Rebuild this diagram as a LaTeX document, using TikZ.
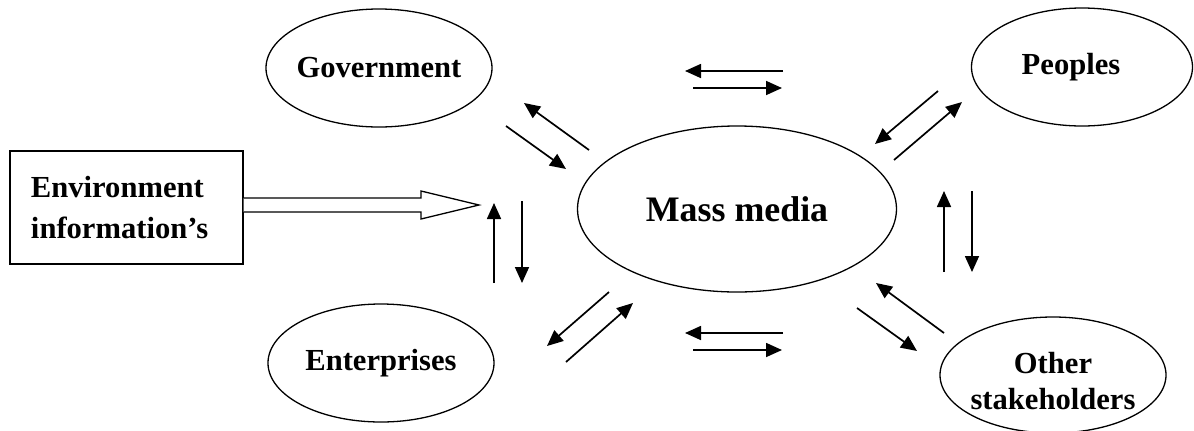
\documentclass[tikz,border=0pt]{standalone}
\usepackage{fontspec}
\setmainfont{Liberation Serif}
\usetikzlibrary{arrows.meta,shapes.geometric,calc}
\begin{document}
\begin{tikzpicture}[x=1bp,y=-1bp,
  lbl/.style={font=\bfseries\fontsize{30.7}{36}\selectfont},
  oval/.style={draw, ellipse, line width=1.3bp, inner sep=-6bp, lbl, align=center},
  envbox/.style={draw, rectangle, line width=1.3bp, minimum width=233bp, minimum height=113bp,
    text width=191bp, inner xsep=21bp, align=left, font=\bfseries\fontsize{30.7}{42}\selectfont},
  flow/.style={line width=1.7bp, -{Triangle[length=16bp,width=14bp]}},
  hollow/.style={draw, line width=1.3bp, fill=white, line join=miter}]
\useasboundingbox (0,0) rectangle (1194,430);

% nodes
\node[oval, minimum width=226bp, minimum height=118bp] (gov) at (379,68) {Government};
\node[oval, minimum width=221bp, minimum height=118bp] (peo) at (1082,67) {Peoples\hspace*{22bp}};
\node[oval, minimum width=226bp, minimum height=118bp] (ent) at (381,363) {Enterprises};
\node[oval, minimum width=226bp, minimum height=116bp] (oth) at (1053,375) {\rule{0pt}{34bp}Other\\stakeholders};
\node[oval, minimum width=319bp, minimum height=166bp, font=\bfseries\fontsize{36}{40}\selectfont] (mm) at (737,209) {Mass media};
\node[envbox] (env) at (126.5,207.5) {Environment\\information’s};

% hollow arrow from the box
\coordinate (envtip) at (479,205);
\draw[hollow] ($(env.east)+(0,-9.5)$) -- (421,198) -- (421,191) -- (envtip)
  -- (421,219) -- (421,212) -- ($(env.east)+(0,4.5)$);

% arrow end points
\coordinate (g1s) at (589,150); \coordinate (g1e) at (524,103);
\coordinate (g2s) at (506,126); \coordinate (g2e) at (566,169);
\coordinate (t1s) at (783,71);  \coordinate (t1e) at (685,71);
\coordinate (t2s) at (693,88);  \coordinate (t2e) at (782,88);
\coordinate (p1s) at (938,91);  \coordinate (p1e) at (875,144);
\coordinate (p2s) at (894,160); \coordinate (p2e) at (962,102);
\coordinate (l1s) at (494,283); \coordinate (l1e) at (494,203);
\coordinate (l2s) at (522,201); \coordinate (l2e) at (522,283);
\coordinate (r1s) at (944,272); \coordinate (r1e) at (944,191);
\coordinate (r2s) at (972,191); \coordinate (r2e) at (972,272);
\coordinate (e1s) at (609,292); \coordinate (e1e) at (547,346);
\coordinate (e2s) at (566,362); \coordinate (e2e) at (633,303);
\coordinate (b1s) at (783,333); \coordinate (b1e) at (685,333);
\coordinate (b2s) at (693,350); \coordinate (b2e) at (782,350);
\coordinate (o1s) at (944,333); \coordinate (o1e) at (876,283);
\coordinate (o2s) at (857,308); \coordinate (o2e) at (917,351);

\foreach \a in {g1,g2,t1,t2,p1,p2,l1,l2,r1,r2,e1,e2,b1,b2,o1,o2}
  \draw[flow] (\a s) -- (\a e);
\end{tikzpicture}
\end{document}
